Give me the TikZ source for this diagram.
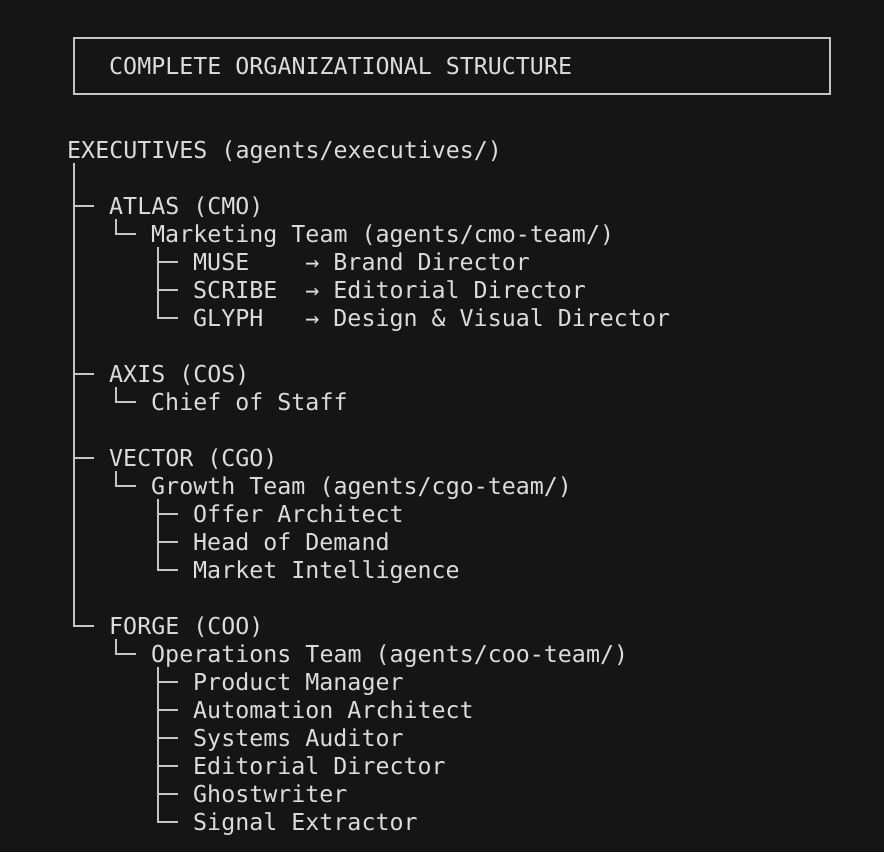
\documentclass[tikz,border=0pt]{standalone}
\usepackage{fontspec}
\newfontfamily\termfont{DejaVu Sans Mono}
\definecolor{termbg}{HTML}{151515}
\definecolor{termtext}{HTML}{DCDCDC}
\definecolor{termline}{HTML}{C4C4C4}
\tikzset{branch/.style={draw=termline, line width=1.4pt}}
\begin{document}
\begin{tikzpicture}[x=1pt,y=-1pt]

      \fill[termbg] (0,0) rectangle (884,852);
      \useasboundingbox (0,0) rectangle (884,852);

      \begin{scope}[every node/.style={anchor=base west, inner sep=0pt, text=termtext,
          font=\termfont\fontsize{23.3}{28}\selectfont}]
        \node (title)  at (109,74)  {COMPLETE ORGANIZATIONAL STRUCTURE};
        \node (exec)   at (67,158)  {EXECUTIVES (agents/executives/)};
        \node (atlas)  at (109,214) {ATLAS (CMO)};
        \node (mkt)    at (151,242) {Marketing Team (agents/cmo-team/)};
        \node (muse)   at (193,270) {MUSE~~~~→ Brand Director};
        \node (scribe) at (193,298) {SCRIBE~~→ Editorial Director};
        \node (glyph)  at (193,326) {GLYPH~~~→ Design \& Visual Director};
        \node (axis)   at (109,382) {AXIS (COS)};
        \node (cos)    at (151,410) {Chief of Staff};
        \node (vector) at (109,466) {VECTOR (CGO)};
        \node (growth) at (151,494) {Growth Team (agents/cgo-team/)};
        \node (offer)  at (193,522) {Offer Architect};
        \node (demand) at (193,550) {Head of Demand};
        \node (intel)  at (193,578) {Market Intelligence};
        \node (forge)  at (109,634) {FORGE (COO)};
        \node (ops)    at (151,662) {Operations Team (agents/coo-team/)};
        \node (pm)     at (193,690) {Product Manager};
        \node (auto)   at (193,718) {Automation Architect};
        \node (audit)  at (193,746) {Systems Auditor};
        \node (edit)   at (193,774) {Editorial Director};
        \node (ghost)  at (193,802) {Ghostwriter};
        \node (signal) at (193,830) {Signal Extractor};
      \end{scope}

      % title frame
      \draw[termline, line width=1.4pt] (74,38) rectangle (830,94);

      % tree lines
      \foreach \p/\c in {exec/atlas, exec/axis, exec/vector, exec/forge,
          atlas/mkt, mkt/muse, mkt/scribe, mkt/glyph, axis/cos,
          vector/growth, growth/offer, growth/demand, growth/intel,
          forge/ops, ops/pm, ops/auto, ops/audit, ops/edit, ops/ghost, ops/signal}
        \path[branch] ([xshift=7pt,yshift=-5pt]\p.base west) |- ([xshift=-15pt,yshift=8pt]\c.base west);

    \end{tikzpicture}
\end{document}
